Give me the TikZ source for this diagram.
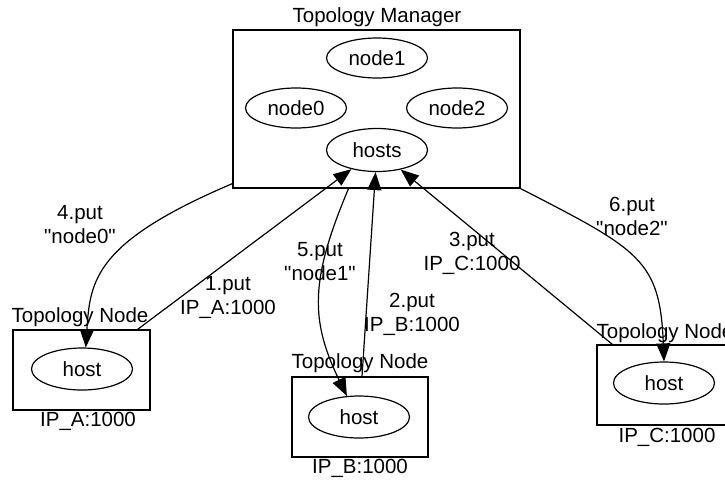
\documentclass[tikz,border=0pt]{standalone}
\usepackage{fontspec}
\setmainfont{Liberation Sans}[Ligatures=TeXOff]
\usetikzlibrary{arrows.meta,shapes.geometric}
\begin{document}
\begin{tikzpicture}[x=1pt,y=-1pt, line width=1.2pt,
  lbl/.style={font=\fontsize{20.5}{24}\selectfont, align=center, inner sep=0pt},
  oval/.style={draw, ellipse, minimum width=101pt, minimum height=40pt, inner sep=0pt, font=\fontsize{20.5}{24}\selectfont},
  box/.style={draw, rectangle, inner sep=0pt},
  arr/.style={-{Triangle[length=18pt,width=14pt]}}]
\useasboundingbox (0,0) rectangle (725,482);
\clip (0,0) rectangle (725,482);
% manager
\node[box, minimum width=287pt, minimum height=158pt] (mgr) at (376.5,109) {};
\node[lbl] (tm) at (377,17) {Topology Manager};
\node[oval] (n1) at (377,58) {node1};
\node[oval] (n0) at (296,108) {node0};
\node[oval] (n2) at (457,108) {node2};
\node[oval, minimum height=43pt] (hosts) at (377,150) {hosts};
% topology nodes
\node[box, minimum width=137pt, minimum height=80pt] (boxA) at (81.5,370) {};
\node[oval, minimum height=42pt] (hostA) at (82,369) {host};
\node[lbl] (tA) at (80,317) {Topology Node};
\node[lbl] (ipA) at (88,421) {IP\_A:1000};
\node[box, minimum width=136pt, minimum height=80pt] (boxB) at (360,417) {};
\node[oval, minimum height=42pt] (hostB) at (359,417) {host};
\node[lbl] (tB) at (360,363) {Topology Node};
\node[lbl] (ipB) at (360,468) {IP\_B:1000};
\node[box, minimum width=136pt, minimum height=80pt] (boxC) at (665,385) {};
\node[oval, minimum height=42pt] (hostC) at (664,383) {host};
\node[lbl] (tC) at (665,333) {Topology Node};
\node[lbl] (ipC) at (667,437) {IP\_C:1000};
% anchors
\coordinate (a1) at ([xshift=-13pt]boxA.north east);
\coordinate (b1) at ([xshift=2pt]boxB.north);
\coordinate (c1) at ([xshift=16pt]boxC.north west);
\coordinate (m4) at ([yshift=5pt]mgr.south west);
\coordinate (m5) at ([xshift=-28pt]mgr.south);
\coordinate (m6) at (mgr.south east);
% connectors
\draw[arr] (a1) -- (hosts);
\draw[arr] (b1) -- (hosts);
\draw[arr] (c1) -- (hosts);
\draw[arr] (m4) .. controls (95,242) and (90,280) .. (hostA.80);
\draw[arr] (m5) .. controls (310,280) and (310,320) .. (hostB.120);
\draw[arr] (m6) .. controls (640,250) and (660,260) .. (hostC.north);
% labels
\node[lbl] (l1) at (228,297.5) {1.put\\IP\_A:1000};
\node[lbl] (l2) at (412,314.5) {2.put\\IP\_B:1000};
\node[lbl] (l3) at (472,253.5) {3.put\\IP\_C:1000};
\node[lbl] (l4) at (80,225) {4.put\\"node0"};
\node[lbl] (l5) at (320,261.5) {5.put\\"node1"};
\node[lbl] (l6) at (632,216.5) {6.put\\"node2"};
\end{tikzpicture}
\end{document}
